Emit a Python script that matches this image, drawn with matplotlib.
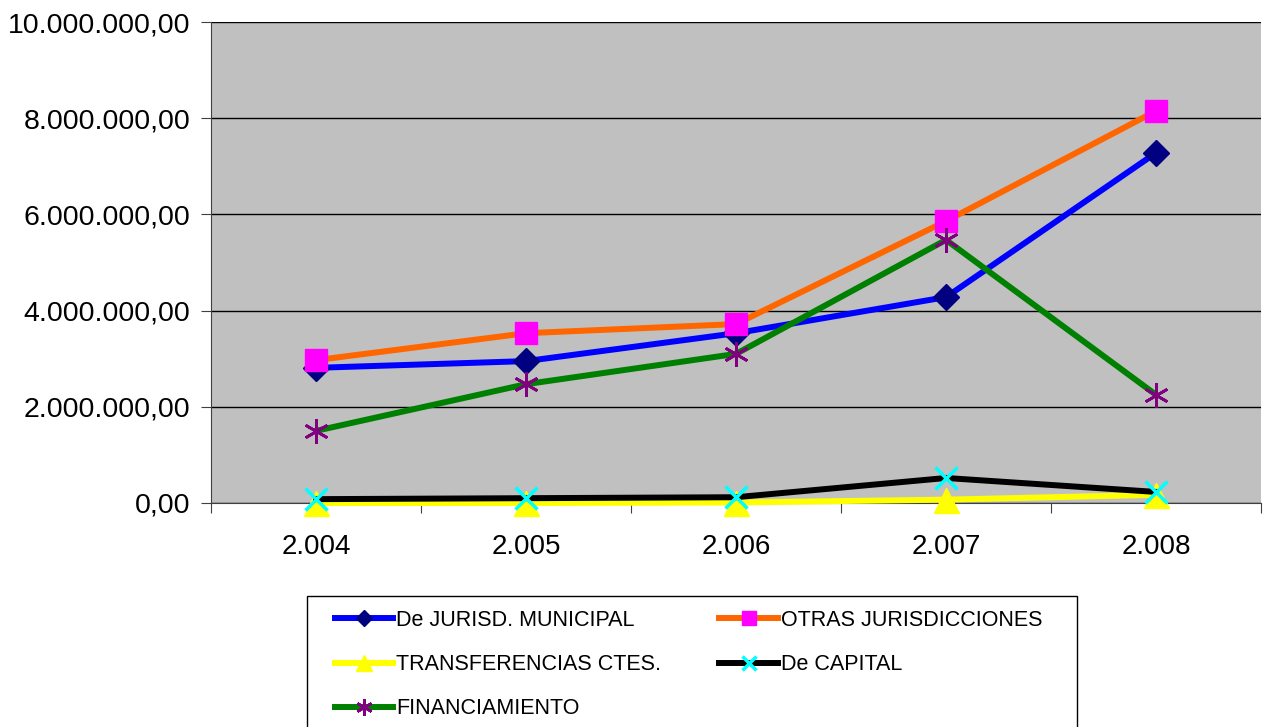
import matplotlib.pyplot as plt
from matplotlib.ticker import FuncFormatter, FixedLocator
from matplotlib.patches import Rectangle
import numpy as np

plt.rcParams['font.family'] = ['Liberation Sans', 'DejaVu Sans']

years = ['2.004', '2.005', '2.006', '2.007', '2.008']
municipal = [2810000, 2950000, 3530000, 4280000, 7280000]
otras = [2970000, 3530000, 3720000, 5860000, 8150000]
transferencias = [0, 0, 10000, 70000, 170000]
capital = [80000, 100000, 120000, 520000, 230000]
financiamiento = [1500000, 2470000, 3100000, 5470000, 2250000]

def fmt(v, pos):
    s = '{:,.2f}'.format(v)
    return s.replace(',', 'X').replace('.', ',').replace('X', '.')

W, H = 1263, 727
fig = plt.figure(figsize=(W/100, H/100), dpi=100)
ax = fig.add_axes([211/W, 1-503/H, 1050/W, 481/H])
ax.set_facecolor('#C0C0C0')

x = np.arange(len(years)) + 0.5
lw = 4.3
l1, = ax.plot(x, municipal, color='#0000FF', lw=lw, marker='D', ms=13,
              mfc='#000080', mec='#000080', label='De JURISD. MUNICIPAL', zorder=3)
l2, = ax.plot(x, otras, color='#FF6600', lw=lw, marker='s', ms=16,
              mfc='#FF00FF', mec='#FF00FF', label='OTRAS JURISDICCIONES', zorder=3)
l3, = ax.plot(x, transferencias, color='#FFFF00', lw=lw, marker='^', ms=18,
              mfc='#FFFF00', mec='#FFFF00', label='TRANSFERENCIAS CTES.', zorder=3,
              clip_on=False)
l4, = ax.plot(x, capital, color='#000000', lw=lw, marker='x', ms=16, mew=2.5,
              mec='#00FFFF', label='De CAPITAL', zorder=3, clip_on=False)
l5, = ax.plot(x, financiamiento, color='#008000', lw=lw, marker=(6, 2, 0), ms=18, mew=2,
              mec='#800080', label='FINANCIAMIENTO', zorder=3)

ax.set_xlim(0, len(years))
ax.set_ylim(0, 10000000)
ax.set_yticks(np.arange(0, 10000001, 2000000))
ax.yaxis.set_major_formatter(FuncFormatter(fmt))
ax.grid(axis='y', color='black', lw=1)
ax.set_axisbelow(True)

ax.xaxis.set_major_locator(FixedLocator(np.arange(len(years) + 1)))
ax.xaxis.set_minor_locator(FixedLocator(x))
ax.set_xticklabels([])
ax.set_xticklabels(years, minor=True)
ax.tick_params(axis='x', which='major', direction='out', length=7, color='#404040')
ax.tick_params(axis='x', which='minor', length=0, pad=22, labelsize=20)
ax.tick_params(axis='y', direction='out', length=7, color='#404040', labelsize=20.5, pad=8)

for side in ['top', 'right']:
    ax.spines[side].set_visible(False)
ax.spines['left'].set_color('#404040')
ax.spines['bottom'].set_color('#404040')

# legend box drawn separately, legend entries row-wise
fig.patches.append(Rectangle((307/W, -0.01), 770/W, 0.01 + 1 - 596/H,
                             transform=fig.transFigure, fill=False,
                             edgecolor='black', lw=1))
handles = [l1, l3, l5, l2, l4]
leg = fig.legend(handles=handles, labels=[h.get_label() for h in handles],
                 loc='upper left', bbox_to_anchor=(335/W, 1-610/H), ncol=2,
                 fontsize=15.5, frameon=False, borderaxespad=0, borderpad=0,
                 handlelength=2.7, handletextpad=0.15, columnspacing=2.7,
                 labelspacing=1.07, markerscale=0.65)

fig.savefig('out.png', dpi=100)
